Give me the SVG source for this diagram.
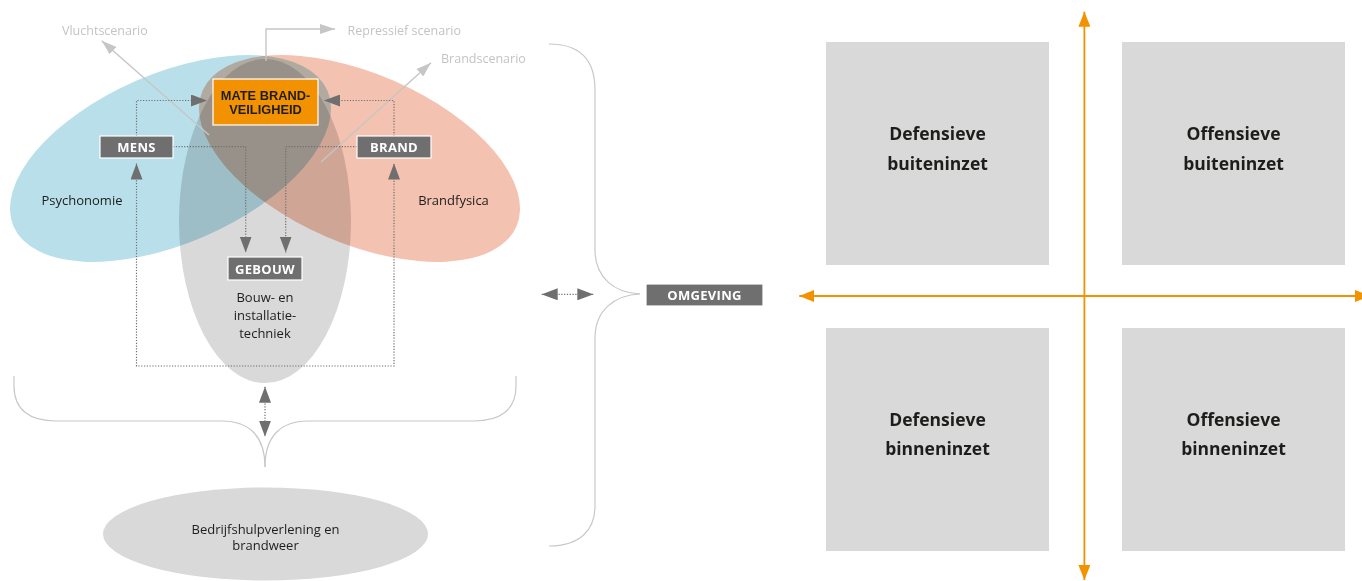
<svg xmlns="http://www.w3.org/2000/svg" width="1362" height="581" viewBox="0 0 1362 581">
<defs>
<style>
text{font-family:'Open Sans','Liberation Sans',sans-serif;}
.lbl{font-size:13px;fill:#1d1d1b;text-anchor:middle;}
.scen{font-size:12.5px;fill:#c4c4c4;}
.tag{fill:#706f6f;stroke:#ffffff;stroke-width:1.2;}
.tagt{font-size:13px;font-weight:700;fill:#ffffff;text-anchor:middle;letter-spacing:0.3px;}
.matet{font-family:'Liberation Sans',Arial,sans-serif;font-size:12.8px;font-weight:700;fill:#1d1d1b;text-anchor:middle;}
.dot{fill:none;stroke:#6f6f6f;stroke-width:1.2;stroke-dasharray:1.2 1.6;}
.lite{fill:none;stroke:#c6c6c6;stroke-width:1.4;}
.brace{fill:none;stroke:#c8c8c8;stroke-width:1.2;}
.ax{fill:none;stroke:#f39200;stroke-width:1.8;}
.quad{fill:#d9d9d9;}
.qt{font-size:17.5px;font-weight:700;fill:#1d1d1b;text-anchor:middle;}
.mul{mix-blend-mode:multiply;}
</style>
<marker id="ad" markerUnits="userSpaceOnUse" markerWidth="16" markerHeight="12" refX="16" refY="6" orient="auto-start-reverse"><path d="M0,0 L16,6 L0,12 Z" fill="#6f6f6f"/></marker>
<marker id="al" markerUnits="userSpaceOnUse" markerWidth="15" markerHeight="10" refX="15" refY="5" orient="auto"><path d="M0,0 L15,5 L0,10 Z" fill="#c6c6c6"/></marker>
<marker id="ao" markerUnits="userSpaceOnUse" markerWidth="15" markerHeight="12" refX="15" refY="6" orient="auto-start-reverse"><path d="M0,0 L15,6 L0,12 Z" fill="#f39200"/></marker>
</defs>
<rect width="1362" height="581" fill="#ffffff"/>

<g id="spheres">
<g id="psychonomie"><ellipse cx="170.5" cy="158.5" rx="171" ry="85" transform="rotate(-23.4 170.5 158.5)" fill="#b9e0ea"/></g>
<g id="brandfysica"><ellipse class="mul" cx="359.5" cy="158.5" rx="171" ry="85" transform="rotate(23.4 359.5 158.5)" fill="#f4c2b0"/></g>
<g id="bouwtechniek"><ellipse class="mul" cx="265" cy="221" rx="86" ry="162" fill="#d9d9d9"/></g>
</g>

<g id="connectors">
<path class="lite" d="M209,135 L101.7,40.7" marker-end="url(#al)"/>
<path class="lite" d="M321,162 L431,62.7" marker-end="url(#al)"/>
<path class="lite" d="M266,61 V29 H335" marker-end="url(#al)"/>
<path class="dot" d="M136.5,136 V100.5 H207" marker-end="url(#ad)"/>
<path class="dot" d="M394,136 V100.5 H324" marker-end="url(#ad)"/>
<path class="dot" d="M173,146.7 H245.7 V252.5" marker-end="url(#ad)"/>
<path class="dot" d="M357,146.7 H285.7 V252.5" marker-end="url(#ad)"/>
<path class="dot" d="M136.5,163.5 V366 H394 V163.5" marker-start="url(#ad)" marker-end="url(#ad)"/>
<path class="dot" d="M265,386.7 V436.7" marker-start="url(#ad)" marker-end="url(#ad)"/>
<path class="dot" d="M541.7,294.3 H593.3" marker-start="url(#ad)" marker-end="url(#ad)"/>
<path class="brace" d="M14,376 V386 C14,410 30,421 56,421 H222 C250,421 265,437 265,467"/>
<path class="brace" d="M516,376 V386 C516,410 500,421 474,421 H308 C280,421 265,437 265,467"/>
<path class="brace" d="M549,44 C580,44 595,60 595,90 V250 C595,278 615,293 640,294"/>
<path class="brace" d="M640,294 C615,295 595,310 595,338 V506 C595,530 580,546 549,546"/>
<path class="ax" d="M1084.4,11.7 V580" marker-start="url(#ao)" marker-end="url(#ao)"/>
<path class="ax" d="M799.3,296 H1370" marker-start="url(#ao)" marker-end="url(#ao)"/>
</g>

<g id="scenario-labels">
<text class="scen" x="62" y="35">Vluchtscenario</text>
<text class="scen" x="347.5" y="35">Repressief scenario</text>
<text class="scen" x="441" y="63">Brandscenario</text>
</g>

<g id="sphere-labels">
<text class="lbl" x="82" y="205">Psychonomie</text>
<text class="lbl" x="453.5" y="205">Brandfysica</text>
<text class="lbl" x="265" y="302">Bouw- en<tspan x="265" dy="18">installatie-</tspan><tspan x="265" dy="18">techniek</tspan></text>
</g>

<g id="mate">
<rect x="213" y="79" width="105" height="46" fill="#f39200" stroke="#ffffff" stroke-width="1.2"/>
<text class="matet" x="265.5" y="99.8">MATE BRAND-<tspan x="265.5" dy="14.4">VEILIGHEID</tspan></text>
</g>
<g id="mens"><rect class="tag" x="100" y="136" width="73" height="22"/><text class="tagt" x="136.5" y="152">MENS</text></g>
<g id="brand"><rect class="tag" x="357" y="136" width="74" height="22"/><text class="tagt" x="394" y="152">BRAND</text></g>
<g id="gebouw"><rect class="tag" x="228" y="257" width="74" height="23"/><text class="tagt" x="265" y="274">GEBOUW</text></g>
<g id="omgeving"><rect class="tag" x="646" y="284" width="117" height="22"/><text class="tagt" x="704.5" y="299.8">OMGEVING</text></g>

<g id="bhv">
<ellipse cx="265.5" cy="534" rx="162.5" ry="46.5" fill="#d9d9d9"/>
<text class="lbl" x="265.5" y="534">Bedrijfshulpverlening en<tspan x="265.5" dy="16">brandweer</tspan></text>
</g>

<g id="q-def-buiten"><rect class="quad" x="826" y="42" width="223" height="223"/><text class="qt" x="937.5" y="140">Defensieve<tspan x="937.5" dy="30">buiteninzet</tspan></text></g>
<g id="q-off-buiten"><rect class="quad" x="1122" y="42" width="223" height="223"/><text class="qt" x="1233.5" y="140">Offensieve<tspan x="1233.5" dy="30">buiteninzet</tspan></text></g>
<g id="q-def-binnen"><rect class="quad" x="826" y="328" width="223" height="223"/><text class="qt" x="937.5" y="426">Defensieve<tspan x="937.5" dy="29">binneninzet</tspan></text></g>
<g id="q-off-binnen"><rect class="quad" x="1122" y="328" width="223" height="223"/><text class="qt" x="1233.5" y="426">Offensieve<tspan x="1233.5" dy="29">binneninzet</tspan></text></g>
</svg>
